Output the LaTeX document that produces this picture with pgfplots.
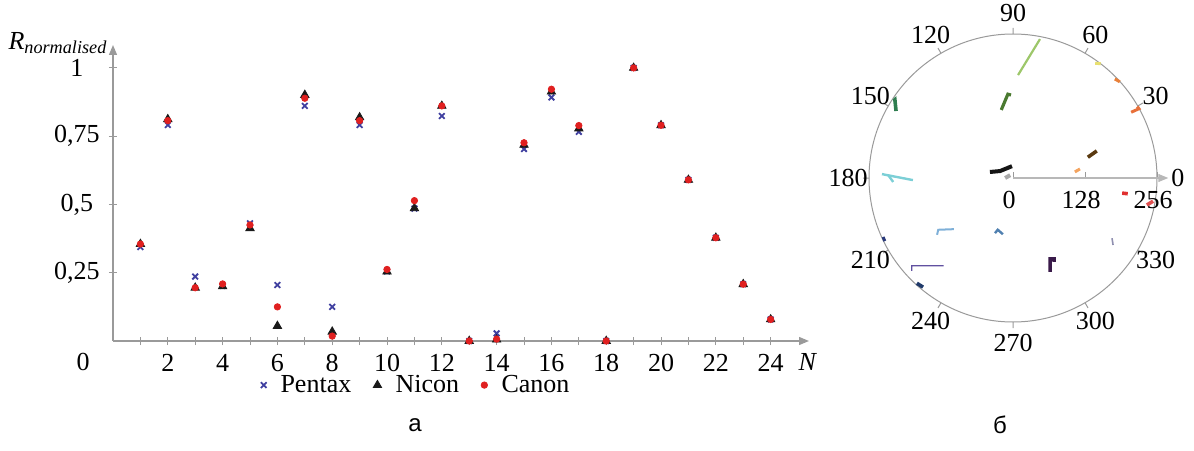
\documentclass[border=0pt]{standalone}
\usepackage{fontspec}
\setmainfont{Liberation Serif}
\newfontfamily\capfont{Liberation Sans}
\usepackage{pgfplots}
\pgfplotsset{compat=1.18}
\usepgfplotslibrary{polar}
\usetikzlibrary{arrows.meta}

\definecolor{pentax}{HTML}{4040A0}
\definecolor{nicon}{HTML}{1A1A1A}
\definecolor{canon}{HTML}{E02020}
\definecolor{axgray}{HTML}{9A9A9A}

\newcommand{\lbl}{\fontsize{13}{15}\selectfont}

\begin{document}
\begin{tikzpicture}[x=0.5pt,y=0.5pt]
\path[use as bounding box] (0,0) rectangle (1194,450);

% a: normalised response per frame
\begin{axis}[
    at={(56.5pt,54.5pt)}, anchor=south west,
    scale only axis, width=348pt, height=148pt,
    xmin=0, xmax=25.4, ymin=0, ymax=1.084,
    axis lines=left,
    axis line style={axgray, line width=0.6pt, -{Triangle[length=5pt,width=4pt]}},
    xtick={2,4,...,24}, minor xtick={1,3,...,23},
    ytick={0.25,0.5,0.75,1}, yticklabels={{0,25},{0,5},{0,75},1},
    tick align=center, major tick length=4pt, minor tick length=4pt,
    every tick/.style={axgray, line width=0.5pt},
    minor tick style={axgray, line width=0.5pt},
    tick label style={font=\lbl},
    /pgf/number format/assume math mode=true,
    yticklabel style={anchor=center, xshift=-16pt},
    xticklabel style={yshift=-1pt},
    clip=false,
    legend columns=3,
    legend style={at={(0.437,-0.149)}, anchor=center, draw=none, fill=none,
        font=\lbl, inner sep=0pt,
        /tikz/every odd column/.append style={column sep=5pt},
        /tikz/every even column/.append style={column sep=9pt}},
    legend image code/.code={\draw[#1] plot coordinates {(0cm,0cm)};},
]
\addplot[only marks, mark=x, mark size=2pt, color=pentax, line width=0.9pt] coordinates {
    (1,0.344) (2,0.791) (3,0.236) (4,0.202) (5,0.431) (6,0.205) (7,0.861) (8,0.125)
    (9,0.791) (10,0.255) (11,0.485) (12,0.824) (13,0.0) (14,0.028) (15,0.703) (16,0.892)
    (17,0.766) (18,0.0) (19,1.0) (20,0.79) (21,0.59) (22,0.378) (23,0.208) (24,0.079)
};
\addlegendentry{Pentax}
\addplot[only marks, mark=triangle*, mark size=2.4pt, color=nicon] coordinates {
    (1,0.355) (2,0.812) (3,0.195) (4,0.2) (5,0.413) (6,0.055) (7,0.901) (8,0.034)
    (9,0.819) (10,0.254) (11,0.486) (12,0.861) (13,0.0) (14,0.005) (15,0.718) (16,0.913)
    (17,0.778) (18,0.0) (19,1.0) (20,0.79) (21,0.59) (22,0.378) (23,0.208) (24,0.079)
};
\addlegendentry{Nicon}
\addplot[only marks, mark=*, mark size=1.6pt, color=canon] coordinates {
    (1,0.355) (2,0.807) (3,0.195) (4,0.209) (5,0.425) (6,0.125) (7,0.889) (8,0.018)
    (9,0.807) (10,0.262) (11,0.514) (12,0.861) (13,0.0) (14,0.007) (15,0.726) (16,0.922)
    (17,0.789) (18,0.0) (19,1.0) (20,0.79) (21,0.59) (22,0.378) (23,0.208) (24,0.079)
};
\addlegendentry{Canon}
\end{axis}

\node[font=\lbl] at (83,88) {0};
\node[font=\lbl] at (808,88) {\textit{N}};
\node[font=\lbl] at (58,407) {\textit{R}\textsubscript{\textit{normalised}}};

% b: hue / saturation traces (angle, radius)
\definecolor{c1}{HTML}{9DC76A}
\definecolor{c2}{HTML}{4A7A30}
\definecolor{c3}{HTML}{2E7D4F}
\definecolor{c4}{HTML}{7CCFD6}
\definecolor{c5}{HTML}{151515}
\definecolor{c6}{HTML}{AAAAAA}
\definecolor{c7}{HTML}{F4A460}
\definecolor{c8}{HTML}{5A3A10}
\definecolor{c9}{HTML}{E8E070}
\definecolor{c10}{HTML}{E8803A}
\definecolor{c11}{HTML}{E8703A}
\definecolor{c12}{HTML}{E03030}
\definecolor{c13}{HTML}{E05050}
\definecolor{c14}{HTML}{9090B0}
\definecolor{c15}{HTML}{3A1A4A}
\definecolor{c16}{HTML}{7FB0D8}
\definecolor{c17}{HTML}{5080B0}
\definecolor{c18}{HTML}{2A3A7A}
\definecolor{c19}{HTML}{6050A0}
\definecolor{c20}{HTML}{203A6A}
\begin{polaraxis}[
    at={(506.5pt,136pt)}, anchor=center,
    scale only axis, width=144pt, height=144pt,
    ymin=0, ymax=256,
    xtick={0,30,...,330}, xticklabels={},
    ytick={0,128,256},
    xmajorgrids=false, ymajorgrids=false,
    axis line style={axgray, line width=0.5pt},
    every tick/.style={axgray, line width=0.5pt},
    major tick length=3pt,
    tick label style={font=\lbl},
    /pgf/number format/assume math mode=true,
    yticklabel style={anchor=north, yshift=-3pt, xshift=-2pt},
    clip=false,
]
\draw[axgray!70, line width=0.6pt, -{Triangle[length=5pt,width=4pt]}] (axis cs:0,0) -- (axis cs:0,276);
\pgfplotsinvokeforeach{0,30,60,90,120,150,180,210,240,270,300,330}{
    \node[font=\lbl, inner sep=0pt] at (axis cs:#1,293) {#1};
}
\addplot[c1, line width=1.1pt] coordinates {(79.0,251.6) (87.2,183.2)};
\addplot[c2, line width=1.6pt] coordinates {(99.8,122.8) (93.5,149.3) (91.4,147.6)};
\addplot[c3, line width=1.8pt] coordinates {(147.1,252.4) (146.5,251.8) (150.2,239.6)};
\addplot[c4, line width=1.2pt] coordinates {(178.3,233.1) (181.2,178.0)};
\addplot[c4, line width=1.2pt] coordinates {(178.6,222.1) (181.9,213.1)};
\addplot[c5, line width=2pt] coordinates {(165.4,42.4) (151.7,26.1) (94.9,21.1)};
\addplot[c6, line width=2pt] coordinates {(180,14) (135,7.1)};
\addplot[c7, line width=1.5pt] coordinates {(5.6,110.5) (7.7,120.1)};
\addplot[c8, line width=1.8pt] coordinates {(15.5,138.1) (17.9,156.5)};
\addplot[c9, line width=1.5pt] coordinates {(54.4,250.9) (52.5,256)};
\addplot[c10, line width=1.5pt] coordinates {(44.2,252.5) (42.0,255.6)};
\addplot[c11, line width=1.5pt] coordinates {(29.1,240.4) (28.8,255.5) (29.9,254.9)};
\addplot[c12, line width=1.8pt] coordinates {(352.1,195.9) (352.2,205.9)};
\addplot[c13, line width=1.8pt] coordinates {(348.6,242.8) (350.6,252.4)};
\addplot[c14, line width=0.8pt] coordinates {(328.7,206.0) (326.2,214.1)};
\addplot[c15, line width=1.8pt] coordinates {(291.6,179.6) (294.6,158.4) (296.9,161.4) (296.1,165.9)};
\addplot[c16, line width=1pt] coordinates {(216.8,168.6) (214.7,161.7) (220.9,138.9)};
\addplot[c17, line width=1.2pt] coordinates {(251.9,103.1) (253.6,95.9) (259.8,101.6)};
\addplot[c18, line width=1.5pt] coordinates {(204.4,253.7) (206.2,254.0)};
\addplot[c19, line width=0.7pt] coordinates {(222.5,244.2) (220.9,238.2) (231.7,198.7)};
\addplot[c20, line width=1.8pt] coordinates {(227.6,253.4) (230.5,251.5)};
\end{polaraxis}

\node[font=\capfont\fontsize{12}{14}\selectfont] at (415,25) {а};
\node[font=\capfont\fontsize{12}{14}\selectfont] at (1000,25) {б};
\end{tikzpicture}
\end{document}
